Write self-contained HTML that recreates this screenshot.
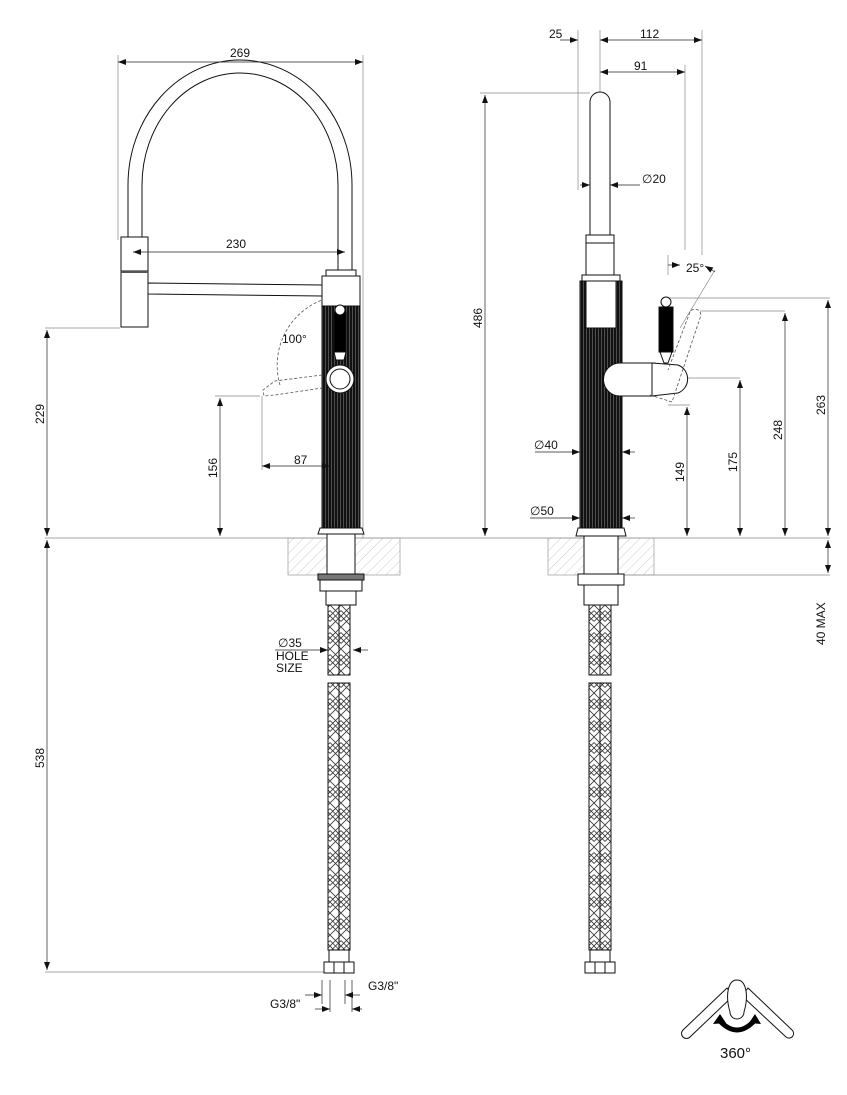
<!DOCTYPE html>
<html><head><meta charset="utf-8"><style>
html,body{margin:0;padding:0;background:#fff;}
svg{display:block}
text{font-family:"Liberation Sans",sans-serif;font-size:12px;fill:#111}
</style></head><body>
<svg width="847" height="1095" viewBox="0 0 847 1095" xmlns="http://www.w3.org/2000/svg">
<defs>
<pattern id="hatch" width="7" height="7" patternUnits="userSpaceOnUse" patternTransform="rotate(45)">
<line x1="0" y1="0" x2="0" y2="7" stroke="#aaa" stroke-width="0.6"/></pattern>
<pattern id="braid" width="11" height="22" patternUnits="userSpaceOnUse">
<path d="M0 0L11 11L0 22M11 0L0 11L11 22M5.5 0L11 5.5M5.5 0L0 5.5M0 16.5L5.5 22L11 16.5" stroke="#333" stroke-width="0.8" fill="none"/></pattern>
<pattern id="flute" width="3" height="10" patternUnits="userSpaceOnUse">
<rect width="3" height="10" fill="#111"/><line x1="1.5" y1="0" x2="1.5" y2="10" stroke="#777" stroke-width="0.6"/></pattern>
<marker id="a" markerWidth="8" markerHeight="6" refX="8" refY="3" orient="auto" markerUnits="userSpaceOnUse"><path d="M0 0L8 3L0 6z" fill="#111"/></marker>
<marker id="b" markerWidth="8" markerHeight="6" refX="0" refY="3" orient="auto" markerUnits="userSpaceOnUse"><path d="M8 0L0 3L8 6z" fill="#111"/></marker>
</defs>
<g stroke="#888" stroke-width="0.7" fill="none">
<line x1="45" y1="538" x2="830" y2="538"/>
<line x1="45" y1="328" x2="120" y2="328"/>
<line x1="45" y1="972" x2="330" y2="972"/>
<line x1="600" y1="575" x2="830" y2="575"/>
<line x1="118" y1="55" x2="118" y2="240"/>
<line x1="363" y1="55" x2="363" y2="538"/>
<line x1="215" y1="396" x2="260" y2="396"/>
<line x1="262" y1="396" x2="262" y2="470"/>
<line x1="480" y1="93" x2="590" y2="93"/>
<line x1="578" y1="30" x2="578" y2="190"/>
<line x1="600" y1="30" x2="600" y2="93"/>
<line x1="702" y1="30" x2="702" y2="255"/>
<line x1="685" y1="65" x2="685" y2="250"/>
<line x1="668" y1="298" x2="830" y2="298"/>
<line x1="700" y1="311" x2="785" y2="311"/>
<line x1="683" y1="378" x2="740" y2="378"/>
<line x1="668" y1="405" x2="690" y2="405"/>
<line x1="668" y1="255" x2="668" y2="275"/>
<line x1="680" y1="328" x2="715" y2="270"/>
</g>
<rect x="288" y="538" width="112" height="37" fill="url(#hatch)" stroke="#999" stroke-width="0.7"/>
<rect x="548" y="538" width="106" height="37" fill="url(#hatch)" stroke="#999" stroke-width="0.7"/>
<g stroke="#111" stroke-width="1" fill="#fff">
<path d="M128 237 L128 185 A112 125 0 0 1 352 185 L352 270 L338 270 L338 185 A98 112 0 0 0 142 185 L142 237 Z"/>
<rect x="121" y="237" width="27" height="34"/>
<rect x="121" y="271" width="27" height="56"/>
<line x1="121" y1="272" x2="148" y2="272" stroke-width="2" stroke="#555"/>
<path d="M148 283 L322 285 L322 296 L148 294 Z"/>
<rect x="326" y="270" width="30" height="6"/>
<rect x="322" y="276" width="38" height="30"/>
<rect x="322" y="306" width="38" height="222" fill="url(#flute)"/>
<rect x="334" y="312" width="12" height="40" fill="#000"/>
<circle cx="340" cy="310" r="5"/>
<path d="M334 352 L346 352 L344 360 L336 360Z"/>
<circle cx="340" cy="379" r="14" fill="#fff"/>
<circle cx="340" cy="379" r="10"/>
<path d="M320 528 L362 528 L364 534 L318 534Z"/>
<rect x="327" y="534" width="28" height="40"/>
<rect x="318" y="574" width="46" height="6" fill="#777"/>
<rect x="320" y="580" width="42" height="11"/>
<rect x="326" y="591" width="30" height="14"/>
<rect x="328" y="605" width="11" height="70" fill="url(#braid)"/>
<rect x="339" y="605" width="11" height="70" fill="url(#braid)"/>
<rect x="328" y="683" width="11" height="267" fill="url(#braid)"/>
<rect x="339" y="683" width="11" height="267" fill="url(#braid)"/>
<rect x="329" y="950" width="20" height="12"/>
<rect x="324" y="962" width="30" height="11"/>
<line x1="334" y1="962" x2="334" y2="973"/><line x1="344" y1="962" x2="344" y2="973"/>
</g>
<g stroke="#555" stroke-width="0.8" fill="none" stroke-dasharray="3,2">
<path d="M322 375 L275 381 L263 390 L264 396 L275 395 L322 388"/>
<path d="M280 385 A70 70 0 0 1 322 300"/>
</g>
<g stroke="#111" stroke-width="1" fill="#fff">
<path d="M590 235 L590 102 A10 10 0 0 1 610 102 L610 235Z"/>
<rect x="586" y="235" width="28" height="8"/>
<rect x="586" y="243" width="28" height="32"/>
<rect x="582" y="275" width="38" height="6"/>
<rect x="580" y="281" width="42" height="247" fill="url(#flute)"/>
<rect x="586" y="281" width="30" height="47"/>
<path d="M620 363 L655 363 L655 396 L620 396 A16 16 0 0 1 620 363Z"/>
<path d="M652 363 L678 365 A15 15 0 0 1 678 393 L652 396Z"/>
<rect x="659" y="307" width="14" height="45" fill="#000"/>
<circle cx="666" cy="302" r="5"/>
<path d="M660 352 L672 352 L668 363 L664 363Z"/>
<path d="M578 528 L624 528 L626 536 L576 536Z"/>
<rect x="584" y="536" width="34" height="38"/>
<rect x="578" y="574" width="46" height="11"/>
<rect x="584" y="585" width="34" height="20"/>
<rect x="589" y="605" width="11" height="70" fill="url(#braid)"/>
<rect x="600" y="605" width="11" height="70" fill="url(#braid)"/>
<rect x="589" y="683" width="11" height="267" fill="url(#braid)"/>
<rect x="600" y="683" width="11" height="267" fill="url(#braid)"/>
<rect x="590" y="950" width="20" height="12"/>
<rect x="585" y="962" width="30" height="11"/>
<line x1="595" y1="962" x2="595" y2="973"/><line x1="605" y1="962" x2="605" y2="973"/>
</g>
<g stroke="#555" stroke-width="0.8" fill="none" stroke-dasharray="3,2">
<path d="M650 395 L672 402 L700 318 A5 5 0 0 0 690 312 L668 370"/>
</g>
<g stroke="#222" stroke-width="0.7" fill="none" marker-start="url(#b)" marker-end="url(#a)">
<line x1="118" y1="62" x2="363" y2="62"/>
<line x1="133" y1="252" x2="345" y2="252"/>
<line x1="262" y1="466" x2="330" y2="466"/>
<line x1="220" y1="398" x2="220" y2="536"/>
<line x1="47" y1="330" x2="47" y2="536"/>
<line x1="47" y1="540" x2="47" y2="970"/>
<line x1="600" y1="40" x2="702" y2="40"/>
<line x1="600" y1="72" x2="685" y2="72"/>
<line x1="485" y1="95" x2="485" y2="536"/>
<line x1="687" y1="407" x2="687" y2="536"/>
<line x1="740" y1="380" x2="740" y2="536"/>
<line x1="785" y1="313" x2="785" y2="536"/>
<line x1="828" y1="300" x2="828" y2="536"/>
<line x1="828" y1="540" x2="828" y2="573"/>
</g>
<g stroke="#222" stroke-width="0.7" fill="none">
<line x1="560" y1="40" x2="578" y2="40" marker-end="url(#a)"/>
<line x1="580" y1="185" x2="590" y2="185" marker-end="url(#a)"/><line x1="640" y1="185" x2="610" y2="185" marker-end="url(#a)"/>
<line x1="535" y1="452" x2="580" y2="452" marker-end="url(#a)"/><line x1="635" y1="452" x2="622" y2="452" marker-end="url(#a)"/>
<line x1="530" y1="518" x2="580" y2="518" marker-end="url(#a)"/><line x1="635" y1="518" x2="622" y2="518" marker-end="url(#a)"/>
<line x1="275" y1="650" x2="328" y2="650" marker-end="url(#a)"/><line x1="368" y1="650" x2="353" y2="650" marker-end="url(#a)"/>
<line x1="668" y1="265" x2="680" y2="265" marker-end="url(#a)"/><line x1="715" y1="272" x2="705" y2="266" marker-end="url(#a)"/>
<line x1="352" y1="980" x2="352" y2="1012"/><line x1="345" y1="980" x2="345" y2="1004"/>
<line x1="330" y1="980" x2="330" y2="1012"/><line x1="322" y1="980" x2="322" y2="1004"/>
<line x1="305" y1="995" x2="322" y2="995" marker-end="url(#a)"/><line x1="360" y1="995" x2="345" y2="995" marker-end="url(#a)"/>
<line x1="315" y1="1009" x2="330" y2="1009" marker-end="url(#a)"/><line x1="362" y1="1009" x2="352" y2="1009" marker-end="url(#a)"/>
</g>
<text x="230" y="57">269</text>
<text x="226" y="248">230</text>
<text x="282" y="343">100°</text>
<text x="294" y="464">87</text>
<text x="217" y="478" transform="rotate(-90 217 478)">156</text>
<text x="44" y="424" transform="rotate(-90 44 424)">229</text>
<text x="44" y="768" transform="rotate(-90 44 768)">538</text>
<text x="278" y="647">∅35</text>
<text x="276" y="660">HOLE</text>
<text x="276" y="672">SIZE</text>
<text x="270" y="1008">G3/8"</text>
<text x="368" y="990">G3/8"</text>
<text x="549" y="38">25</text>
<text x="640" y="38">112</text>
<text x="634" y="70">91</text>
<text x="642" y="183">∅20</text>
<text x="686" y="272">25°</text>
<text x="534" y="449">∅40</text>
<text x="530" y="515">∅50</text>
<text x="482" y="328" transform="rotate(-90 482 328)">486</text>
<text x="684" y="482" transform="rotate(-90 684 482)">149</text>
<text x="737" y="472" transform="rotate(-90 737 472)">175</text>
<text x="782" y="440" transform="rotate(-90 782 440)">248</text>
<text x="825" y="415" transform="rotate(-90 825 415)">263</text>
<text x="825" y="645" transform="rotate(-90 825 645)">40 MAX</text>
<g stroke="#111" stroke-width="1" fill="#fff">
<path d="M683 1030 L727 988 L733 996 L690 1037 A4 4 0 0 1 683 1030Z"/>
<path d="M748 988 L792 1030 A4 4 0 0 1 786 1037 L742 996Z"/>
<path d="M730 1012 C725 995 728 980 737 980 C746 980 749 995 744 1012 A7 7 0 0 1 730 1012Z"/>
</g>
<path d="M719 1020 Q737 1040 755 1020" stroke="#000" stroke-width="5" fill="none"/>
<path d="M713 1024 L720 1014 L726 1023Z M749 1023 L755 1014 L761 1024Z" fill="#000"/>
<text x="720" y="1058" style="font-size:15px">360°</text>
</svg>
</body></html>
